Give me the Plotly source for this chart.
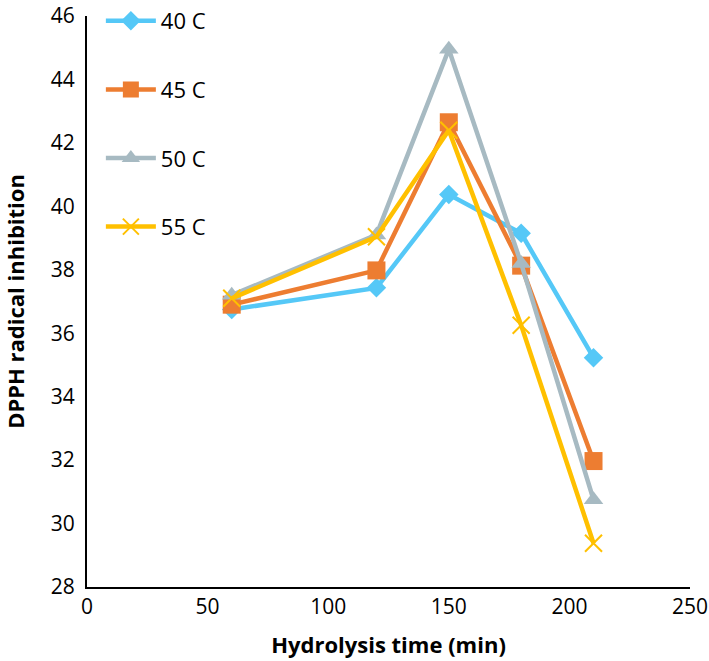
import plotly.graph_objects as go

time_min = [60, 120, 150, 180, 210]
series_names = ["40 C", "45 C", "50 C", "55 C"]
v40 = [36.75, 37.43, 40.37, 39.15, 35.23]
v45 = [36.9, 37.98, 42.65, 38.13, 31.97]
v50 = [37.2, 39.1, 44.95, 38.2, 30.75]
v55 = [37.1, 39.04, 42.4, 36.25, 29.38]

colors = ["#55C8F7", "#ED7D31", "#A7BAC2", "#FFC000"]
symbols = ["diamond", "square", "triangle-up", "x-thin"]
sizes = [15, 18, 17, 17]

fig = go.Figure()
for i, (name, vals) in enumerate(zip(series_names, [v40, v45, v50, v55])):
    marker = dict(symbol=symbols[i], size=sizes[i], color=colors[i])
    if symbols[i] == "x-thin":
        marker["line"] = dict(color=colors[i], width=2)
    fig.add_trace(go.Scatter(
        x=time_min, y=vals, name=name, mode="lines+markers",
        line=dict(color=colors[i], width=4.5),
        marker=marker, legendgroup=name,
    ))

font_family = "Open Sans, Noto Sans, sans-serif"
fig.update_layout(
    width=709, height=661,
    margin=dict(l=87, r=19, t=16, b=74, autoexpand=False),
    paper_bgcolor="white", plot_bgcolor="white",
    font=dict(family=font_family, color="black", size=21),
    showlegend=True,
    legend=dict(x=0.023, y=1.01, xref="paper", yref="container",
                xanchor="left", yanchor="top", itemwidth=50,
                bgcolor="rgba(0,0,0,0)", font=dict(size=22),
                tracegroupgap=37, traceorder="grouped"),
    xaxis=dict(range=[0, 250], tickvals=[0, 50, 100, 150, 200, 250],
               showgrid=False, zeroline=False, showline=True, automargin=False,
               linecolor="black", linewidth=2, ticks="",
               tickfont=dict(size=21), ticklabelstandoff=0, ticklabeloverflow="allow",
               title=dict(text="<b>Hydrolysis time (min)</b>", font=dict(size=22), standoff=18)),
    yaxis=dict(range=[28, 46], tickvals=list(range(28, 47, 2)),
               showgrid=False, zeroline=False, showline=True, automargin=False,
               linecolor="black", linewidth=2, ticks="",
               tickfont=dict(size=21), ticklabelstandoff=6, ticklabeloverflow="allow",
               title=dict(text="<b>DPPH radical inhibition</b>", font=dict(size=22), standoff=30)),
)

fig.write_html(
    "out.html",
    config={"displayModeBar": False},
    post_script="document.body.style.margin='0';document.body.style.overflow='hidden';",
)
